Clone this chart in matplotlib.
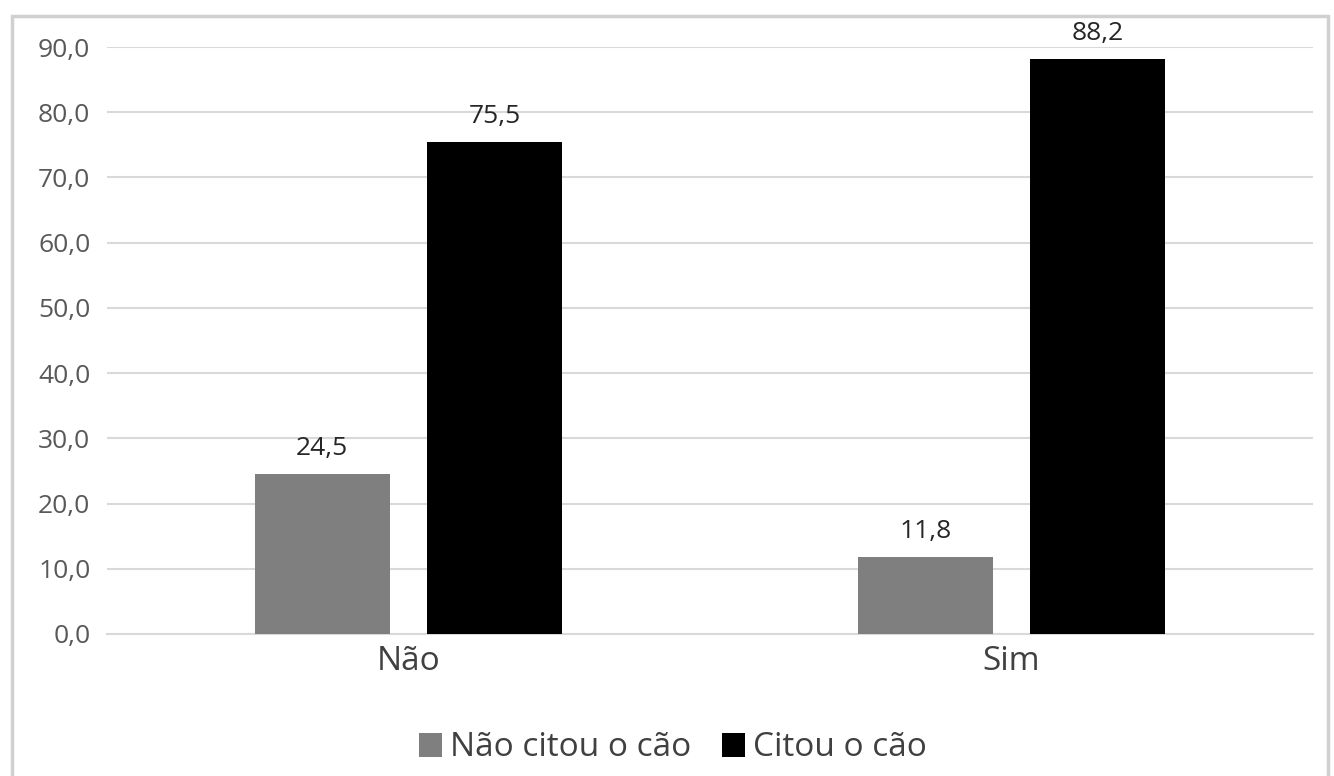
import numpy as np
import matplotlib.pyplot as plt
from matplotlib.patches import Rectangle

# Dados do gráfico
categorias = ['Não', 'Sim']
series = ['Não citou o cão', 'Citou o cão']
nao_citou = [24.5, 11.8]
citou = [75.5, 88.2]
cores = ['#7f7f7f', '#000000']

plt.rcParams['font.family'] = ['Open Sans', 'DejaVu Sans']

fig = plt.figure(figsize=(13.34, 7.76), dpi=100)
ax = fig.add_axes([107 / 1334, 1 - 634 / 776, (1313 - 107) / 1334, (634 - 47) / 776])

# moldura do gráfico
fig.patches.append(Rectangle((12 / 1334, -0.05), (1328 - 12) / 1334, 1.05 - 16 / 776,
                             transform=fig.transFigure, fill=False,
                             edgecolor='#d0d0d0', linewidth=2.5))

x = np.arange(len(categorias))
largura = 0.224
desloc = 0.143

for i, (vals, cor, nome) in enumerate(zip([nao_citou, citou], cores, series)):
    pos = x + (desloc if i else -desloc)
    barras = ax.bar(pos, vals, largura, color=cor, label=nome, zorder=3)
    for b, v in zip(barras, vals):
        ax.text(b.get_x() + b.get_width() / 2, v + 2.0, f'{v:.1f}'.replace('.', ','),
                ha='center', va='bottom', fontsize=19, color='#262626')

ax.set_xlim(-0.5, 1.5)
ax.set_ylim(0, 90)
ax.set_yticks(np.arange(0, 91, 10))
ax.set_yticklabels([f'{v:.1f}'.replace('.', ',') for v in np.arange(0, 91, 10)])
ax.set_xticks(x)
ax.set_xticklabels(categorias)
ax.tick_params(axis='y', length=0, labelsize=19, labelcolor='#595959', pad=12)
ax.tick_params(axis='x', length=0, labelsize=24, labelcolor='#404040', pad=8)

ax.grid(axis='y', color='#d9d9d9', linewidth=1.5, zorder=0)
for s in ['top', 'right', 'left']:
    ax.spines[s].set_visible(False)
ax.spines['bottom'].set_color('#d9d9d9')
ax.spines['bottom'].set_linewidth(1.5)

fig.legend(loc='center', bbox_to_anchor=(673 / 1334, 1 - 748 / 776), ncol=2, frameon=False,
           fontsize=24, handlelength=0.7, handleheight=0.7, handletextpad=0.25,
           columnspacing=0.9, labelcolor='#404040')

fig.savefig('out.png', dpi=100)
